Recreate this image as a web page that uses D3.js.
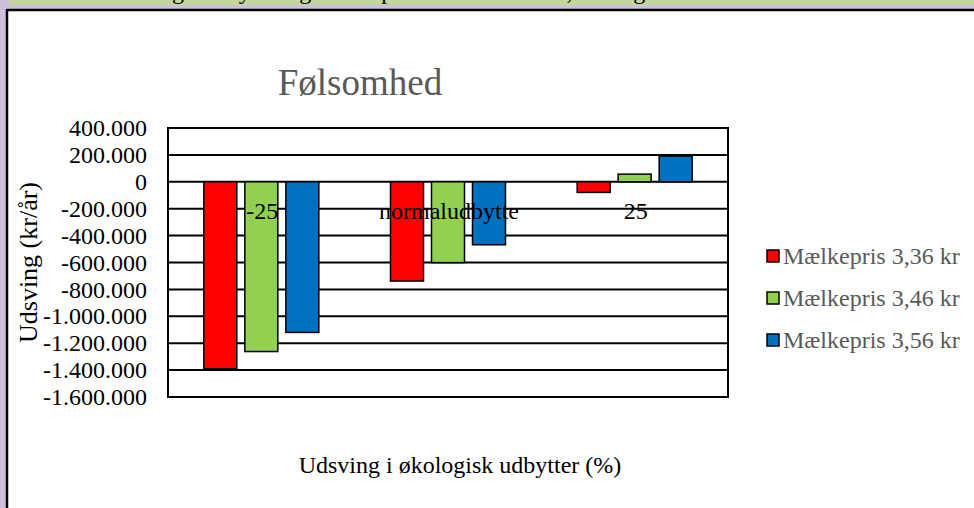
<!DOCTYPE html>
<html><head><meta charset="utf-8">
<script src="https://cdn.jsdelivr.net/npm/d3@7"></script>
<style>html,body{margin:0;padding:0;overflow:hidden;background:#ccc0da}svg{display:block;overflow:hidden}</style>
</head><body>
<script>
const categories = ["-25", "normaludbytte", "25"];
const seriesNames = ["Mælkepris 3,36 kr", "Mælkepris 3,46 kr", "Mælkepris 3,56 kr"];
const seriesColors = ["#ff0000", "#92d050", "#0070c0"];
const values336 = [-1390000, -738000, -79000];
const values346 = [-1262000, -601000, 57000];
const values356 = [-1120000, -468000, 191000];
const tickValues = [400000, 200000, 0, -200000, -400000, -600000, -800000, -1000000, -1200000, -1400000, -1600000];
const chartTitle = "Følsomhed";
const yTitle = "Udsving (kr/år)";
const xTitle = "Udsving i økologisk udbytter (%)";
const captionText = "Ændring i udbyttet og mælkeprisen for bedriften, økologisk bedrift";

const series = [values336, values346, values356];
const W = 974, H = 508;
const font = "'Liberation Serif','Times New Roman',serif";
const svg = d3.select("body").append("svg").attr("width", W).attr("height", H);

svg.append("rect").attr("width", W).attr("height", H).attr("fill", "#ccc0da");
// cut-off caption band (nested viewport clips the caption text)
const cap = svg.append("svg").attr("x", 9).attr("y", 0).attr("width", W - 9).attr("height", 5);
cap.append("rect").attr("width", W - 9).attr("height", 5).attr("fill", "#c3d69b");
cap.append("text").attr("x", 91).attr("y", -1)
  .attr("font-family", font).attr("font-size", 24).attr("fill", "#000").text(captionText);

// chart frame
svg.append("rect").attr("x", 7).attr("y", 10).attr("width", W - 7).attr("height", H - 10).attr("fill", "#fff");
svg.append("line").attr("x1", 7).attr("x2", W).attr("y1", 10).attr("y2", 10)
  .attr("stroke", "#000").attr("stroke-width", 2.5);
svg.append("line").attr("x1", 7).attr("x2", 7).attr("y1", 9).attr("y2", H)
  .attr("stroke", "#000").attr("stroke-width", 2.5);

const plot = {left: 168, right: 728, top: 128, bottom: 397};
const y = d3.scaleLinear().domain([-1600000, 400000]).range([plot.bottom, plot.top]);
const x0 = d3.scaleBand().domain(categories).range([plot.left, plot.right]).paddingInner(0).paddingOuter(0);
const groupW = 115;
const x1 = d3.scaleBand().domain(d3.range(series.length))
  .range([(x0.bandwidth() - groupW) / 2, (x0.bandwidth() + groupW) / 2]).paddingInner(8 / 41).paddingOuter(0);

const loc = d3.formatLocale({decimal: ",", thousands: ".", grouping: [3], currency: ["", ""], minus: "-"});
const fmt = loc.format(",");

// gridlines
svg.append("g").selectAll("line").data(tickValues).join("line")
  .attr("x1", plot.left).attr("x2", plot.right)
  .attr("y1", d => y(d)).attr("y2", d => y(d))
  .attr("stroke", "#000").attr("stroke-width", 2);

// y axis labels
const yAxis = d3.axisLeft(y).tickValues(tickValues).tickFormat(fmt).tickSize(0).tickPadding(21);
const gy = svg.append("g").attr("transform", `translate(${plot.left},0)`).call(yAxis);
gy.select(".domain").remove();
gy.selectAll("text").attr("font-family", font).attr("font-size", 24).attr("fill", "#000");

// bars
series.forEach((vals, si) => {
  svg.append("g").selectAll("rect").data(vals).join("rect")
    .attr("x", (d, i) => x0(categories[i]) + x1(si))
    .attr("width", x1.bandwidth())
    .attr("y", d => y(Math.max(0, d)))
    .attr("height", d => Math.abs(y(d) - y(0)))
    .attr("fill", seriesColors[si]).attr("stroke", "#000").attr("stroke-width", 1.5);
});

// plot border
svg.append("rect").attr("x", plot.left).attr("y", plot.top)
  .attr("width", plot.right - plot.left).attr("height", plot.bottom - plot.top)
  .attr("fill", "none").attr("stroke", "#000").attr("stroke-width", 2);

// category labels
svg.append("g").selectAll("text").data(categories).join("text")
  .attr("x", d => x0(d) + x0.bandwidth() / 2 + 1).attr("y", 219)
  .attr("text-anchor", "middle").attr("font-family", font).attr("font-size", 24).attr("fill", "#000")
  .text(d => d);

// title
svg.append("text").attr("x", 360).attr("y", 95).attr("text-anchor", "middle")
  .attr("font-family", font).attr("font-size", 37).attr("fill", "#595959").text(chartTitle);

// y title
svg.append("text").attr("transform", `translate(37,${(plot.top + plot.bottom) / 2}) rotate(-90)`)
  .attr("text-anchor", "middle").attr("font-family", font).attr("font-size", 26).attr("fill", "#000").text(yTitle);

// x title
svg.append("text").attr("x", 460).attr("y", 473).attr("text-anchor", "middle")
  .attr("font-family", font).attr("font-size", 24).attr("fill", "#000").text(xTitle);

// legend
const lg = svg.append("g").selectAll("g").data(seriesNames).join("g")
  .attr("transform", (d, i) => `translate(767,${256 + i * 42})`);
lg.append("rect").attr("x", 0).attr("y", -6).attr("width", 12).attr("height", 12)
  .attr("fill", (d, i) => seriesColors[i]).attr("stroke", "#000").attr("stroke-width", 1.5);
lg.append("text").attr("x", 16).attr("dy", "0.35em").attr("font-family", font).attr("font-size", 24)
  .attr("fill", "#595959").text(d => d);
</script>
</body></html>
